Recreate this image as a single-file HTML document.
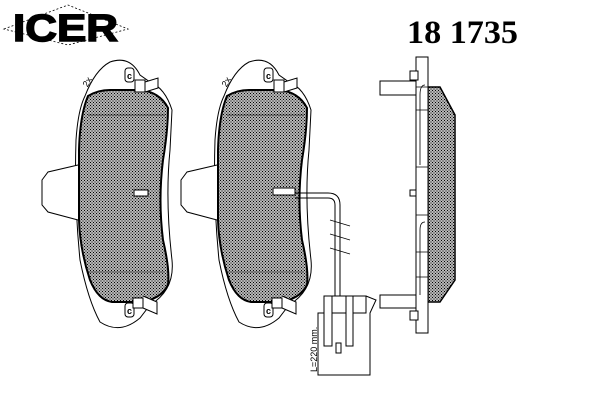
<!DOCTYPE html>
<html><head><style>body{margin:0;background:#fff}svg{display:block}</style></head><body>
<svg width="600" height="400" viewBox="0 0 600 400" xmlns="http://www.w3.org/2000/svg">
<defs>
<pattern id="h" width="3" height="3" patternUnits="userSpaceOnUse"><rect width="3" height="3" fill="#b8b8b8"/><rect width="1" height="1" fill="#000"/><rect x="1.5" y="1.5" width="1" height="1" fill="#000"/></pattern>
<g id="pad">
  <path d="M85,96 Q95,70 110,62 Q130,55 140,75 L150,82 Q165,88 172,110 L170,150 Q165,200 172,260 Q175,290 150,305 L140,318 Q120,335 100,322 Q88,300 80,260 Q74,200 76,140 Q78,110 85,96 Z" fill="#fff" stroke="#000" stroke-width="1"/>
  <path d="M88,96 Q98,90 110,90 L140,90 Q160,92 168,108 Q168,130 163,160 Q158,200 163,240 Q170,270 168,285 Q160,300 140,302 L112,302 Q98,300 90,280 Q80,250 79,220 L79,150 Q80,115 88,96 Z" fill="url(#h)" stroke="#000" stroke-width="2"/>
  <line x1="88" y1="115" x2="165" y2="115" stroke="#000" stroke-width="0.6"/>
  <line x1="88" y1="272" x2="165" y2="272" stroke="#000" stroke-width="0.6"/>
  <path d="M78,165 L48,172 L42,180 L42,205 L48,212 L78,220" fill="#fff" stroke="#000"/>
  <rect x="125" y="68" width="9" height="14" rx="3" fill="#fff" stroke="#000"/>
  <text x="127" y="79" font-family="Liberation Sans,sans-serif" font-size="9" font-weight="bold">c</text>
  <path d="M135,80 L135,92 L145,92 L145,80 Z M145,82 L158,78 L158,88 L145,92" fill="#fff" stroke="#000"/>
  <rect x="125" y="303" width="9" height="14" rx="3" fill="#fff" stroke="#000"/>
  <text x="127" y="314" font-family="Liberation Sans,sans-serif" font-size="9" font-weight="bold">c</text>
  <path d="M133,298 L133,308 L143,308 L143,298 Z M143,296 L157,302 L157,314 L143,308" fill="#fff" stroke="#000"/>
  <text x="82" y="86" font-family="Liberation Sans,sans-serif" font-size="9" transform="rotate(-60 86 82)">2x</text>
</g>
</defs>
<path d="M4,29 L68,5 L128,29 L68,45 Z" fill="none" stroke="#000" stroke-dasharray="2,2" stroke-width="0.8"/>
<text x="13" y="41" font-family="Liberation Sans,sans-serif" font-size="38" font-weight="bold" textLength="105" lengthAdjust="spacingAndGlyphs" stroke="#000" stroke-width="1.5">ICER</text>
<text x="407" y="43" font-family="Liberation Serif,serif" font-size="33" font-weight="bold" textLength="111" lengthAdjust="spacingAndGlyphs">18 1735</text>

<use href="#pad"/>
<rect x="134" y="190" width="14" height="6" fill="#fff" stroke="#000"/>
<use href="#pad" x="139"/>
<rect x="273" y="188" width="22" height="7" fill="#fff" stroke="#000"/>

<path d="M295,193 L328,193 Q340,193 340,205 L340,296" fill="none" stroke="#000" stroke-width="1"/>
<path d="M295,198 L328,198 Q335,198 335,205 L335,296" fill="none" stroke="#000" stroke-width="1"/>
<g stroke="#000" stroke-width="0.7"><line x1="330" y1="220" x2="350" y2="226"/><line x1="330" y1="234" x2="350" y2="240"/><line x1="330" y1="248" x2="350" y2="254"/></g>
<path d="M324,296 L366,296 L376,300 L370,313 L370,375 L318,375 L318,313 L324,313 Z" fill="#fff" stroke="#000"/>
<rect x="324" y="296" width="42" height="17" fill="#fff" stroke="#000"/>
<rect x="324" y="296" width="8" height="50" fill="#fff" stroke="#000"/>
<rect x="346" y="296" width="7" height="50" fill="#fff" stroke="#000"/>
<rect x="336" y="343" width="5" height="10" fill="#fff" stroke="#000"/>
<text x="317" y="372" font-family="Liberation Sans,sans-serif" font-size="9" transform="rotate(-90 317 372)">L=220 mm.</text>

<path d="M428,87 L440,87 L455,115 L455,280 L440,302 L428,302 Z" fill="url(#h)" stroke="#000" stroke-width="1.5"/>
<rect x="416" y="57" width="12" height="276" fill="#fff" stroke="#000"/>
<g stroke="#000" fill="none" stroke-width="0.8">
<path d="M416,87 L428,87 M416,110 L428,110 M416,167 L428,167 M416,215 L428,215 M416,252 L428,252 M416,277 L428,277"/>
<path d="M425,85 Q420,85 420,95 L420,165 M425,222 Q420,222 420,230 L420,295"/>
</g>
<rect x="380" y="81" width="36" height="14" fill="#fff" stroke="#000"/>
<rect x="410" y="71" width="8" height="9" fill="#fff" stroke="#000"/>
<rect x="380" y="295" width="36" height="13" fill="#fff" stroke="#000"/>
<rect x="410" y="311" width="8" height="9" fill="#fff" stroke="#000"/>
<rect x="410" y="190" width="6" height="6" fill="#fff" stroke="#000"/>
</svg>
</body></html>
